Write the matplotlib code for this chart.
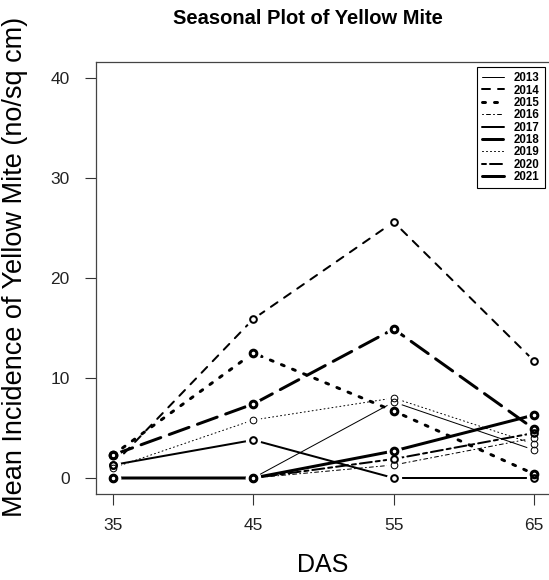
import matplotlib
matplotlib.use('Agg')
import matplotlib.pyplot as plt
from matplotlib.lines import Line2D

plt.rcParams['font.family'] = ['Liberation Sans', 'DejaVu Sans']

# days after sowing
das = [35, 45, 55, 65]
years = ['2013', '2014', '2015', '2016', '2017', '2018', '2019', '2020', '2021']

# mean incidence per year
y2013 = [0.0, 0.0, 7.6, 2.8]
y2014 = [1.3, 15.9, 25.6, 11.7]
y2015 = [2.3, 12.5, 6.7, 0.4]
y2016 = [0.0, 0.0, 1.3, 4.0]
y2017 = [1.3, 3.8, 0.0, 0.0]
y2018 = [2.3, 7.4, 14.9, 4.9]
y2019 = [1.0, 5.8, 8.0, 3.4]
y2020 = [0.0, 0.0, 1.9, 4.5]
y2021 = [0.0, 0.0, 2.7, 6.3]
series = [y2013, y2014, y2015, y2016, y2017, y2018, y2019, y2020, y2021]

# R-like line types: (lwd in px, dash pattern in lwd units)
px = 0.72
styles = [
    (1, None),
    (2, (4, 4)),
    (3, (1, 3)),
    (1, (1, 3, 4, 3)),
    (2, None),
    (3, (7, 3)),
    (1, (1, 3)),
    (2, (2, 2, 6, 2)),
    (3, None),
]

fig = plt.figure(figsize=(5.49, 5.80), dpi=100)
ax = fig.add_axes([96/549, 86/580, 455/549, 432/580])

handles = []
for vals, (lwd, dash), yr in zip(series, styles, years):
    kw = dict(color='black', lw=lwd*px, solid_capstyle='round', dash_capstyle='round')
    line, = ax.plot(das, vals, zorder=2, **kw)
    if dash is not None:
        line.set_dashes(dash)
    # gap around the points like type="b"
    ax.plot(das, vals, ls='none', marker='o', ms=11, mfc='white', mec='none', zorder=3)
    ax.plot(das, vals, ls='none', marker='o', ms=4.8, mfc='none', mec='black',
            mew=lwd*px, zorder=4)
    h = Line2D([0], [0], **kw)
    if dash is not None:
        h.set_dashes(dash)
    handles.append(h)

ax.set_xlim(33.8, 66.2)
ax.set_ylim(-1.6, 41.6)
ax.set_xticks(das)
ax.set_yticks([0, 10, 20, 30, 40])
ax.tick_params(axis='both', direction='out', length=8, width=0.8, color='#333333',
               labelsize=12.5, labelcolor='#222222')
ax.tick_params(axis='x', pad=9)
ax.tick_params(axis='y', pad=11)
for s in ax.spines.values():
    s.set_color('#444444')
    s.set_linewidth(0.9)

fig.text(308/549, 1 - 19/580, 'Seasonal Plot of Yellow Mite', ha='center', va='center',
         fontsize=14.5, fontweight='bold')
fig.text(323/549, 1 - 565/580, 'DAS', ha='center', va='center', fontsize=18)
fig.text(22/549, 1 - 267/580, 'Mean Incidence of Yellow Mite (no/sq cm)', rotation=90,
         rotation_mode='anchor', ha='center', va='baseline', fontsize=19.5)

leg = ax.legend(handles, years, loc='upper right', bbox_to_anchor=(545/549, 1 - 67/580),
                bbox_transform=fig.transFigure, prop={'weight': 'bold', 'size': 8.3},
                handlelength=1.9, handletextpad=0.85, labelspacing=0.03, borderpad=0.45,
                fancybox=False, framealpha=1, edgecolor='black', borderaxespad=0)
leg.get_frame().set_linewidth(0.8)

fig.savefig('out.png', dpi=100)
